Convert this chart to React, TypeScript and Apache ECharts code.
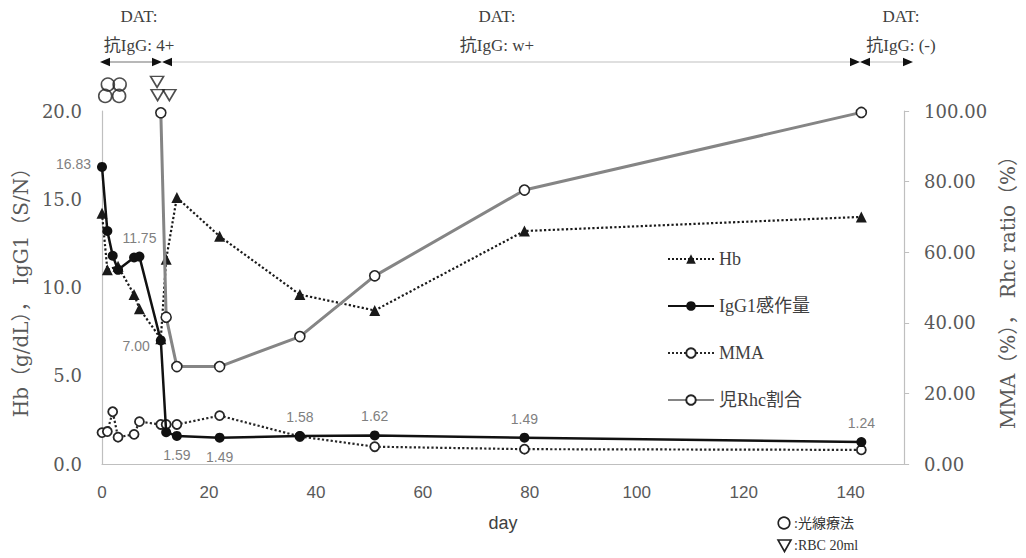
import React, { useEffect, useRef } from "react";
import * as echarts from "echarts";

// ---- data ----
const hbDays = [0, 1, 3, 6, 7, 11, 12, 14, 22, 37, 51, 79, 142];
const hbValues = [14.2, 11.0, 11.2, 9.6, 8.8, 7.1, 11.6, 15.1, 12.9, 9.6, 8.7, 13.2, 14.0];

const igDays = [0, 1, 2, 3, 6, 7, 11, 12, 14, 22, 37, 51, 79, 142];
const igValues = [16.83, 13.2, 11.8, 11.0, 11.7, 11.75, 7.0, 1.8, 1.59, 1.49, 1.58, 1.62, 1.49, 1.24];
const igLabeledDays = [0, 7, 11, 14, 22, 37, 51, 79, 142];

const mmaDays = [0, 1, 2, 3, 6, 7, 11, 12, 14, 22, 37, 51, 79, 142];
const mmaValues = [8.9, 9.2, 14.8, 7.6, 8.4, 12.0, 11.2, 11.2, 11.2, 13.7, 7.8, 4.9, 4.2, 4.0];

const rhcDays = [11, 12, 14, 22, 37, 51, 79, 142];
const rhcValues = [99.5, 41.6, 27.6, 27.6, 36.1, 53.3, 77.6, 99.6];

// treatment marks drawn above the plot (day, stacking level on the left axis scale)
const phototherapyDays = [1.1, 3.3, 0.6, 3.2];
const phototherapyLevels = [21.5, 21.5, 20.85, 20.85];
const transfusionDays = [10.3, 10.4, 12.6];
const transfusionLevels = [21.65, 20.9, 20.9];

const datTitles = ["DAT:", "DAT:", "DAT:"];
const datResults = ["抗IgG: 4+", "抗IgG: w+", "抗IgG: (-)"];

const seriesNames = ["Hb", "IgG1感作量", "MMA", "児Rhc割合"];
const xTicks = { min: 0, max: 150, interval: 20 };
const leftTicks = { min: 0, max: 20, interval: 5 };
const rightTicks = { min: 0, max: 100, interval: 20 };

const SERIF = '"Liberation Serif", "Noto Sans CJK JP", serif';
const SERIF2 = '"DejaVu Serif", "Noto Sans CJK JP", serif';
const SANS = '"Liberation Sans", Arial, sans-serif';

function labelPos(day: number): string {
  if (day === 0 || day === 11) return "left";
  if (day === 14 || day === 22) return "bottom";
  return "top";
}

export default function App() {
  const ref = useRef<HTMLDivElement>(null);
  useEffect(() => {
    document.body.style.margin = "0";
    document.body.style.overflow = "hidden";
    const chart = echarts.init(ref.current!, null, { renderer: "svg" });

    const igData = igDays.map((d, i) => {
      if (igLabeledDays.indexOf(d) >= 0) {
        const pos = labelPos(d);
        return {
          value: [d, igValues[i]],
          label: {
            show: true,
            position: pos,
            distance: pos === "left" ? 6 : 7,
            offset: d === 0 ? [0, -3] : d === 11 ? [0, 6] : [0, 0],
            formatter: igValues[i].toFixed(2),
          },
        };
      }
      return { value: [d, igValues[i]] };
    });

    const graphicEls: any[] = [];
    const txt = (x: number, y: number, text: string, font: string, fill: string, align = "center") => ({
      type: "text",
      x,
      y,
      silent: true,
      style: {
        text,
        font,
        fill,
        align,
        textAlign: align,
        verticalAlign: "middle",
        textVerticalAlign: "middle",
      },
    });
    const centers = [139, 497, 901];
    centers.forEach((cx, i) => {
      graphicEls.push(txt(cx, 16, datTitles[i], `17px ${SERIF}`, "#404040"));
      graphicEls.push(txt(cx, 45, datResults[i], `17px ${SERIF}`, "#404040"));
    });
    const ay = 62;
    const ah = 4.2;
    const arrowL = (tip: number) => ({
      type: "polygon",
      silent: true,
      shape: { points: [[tip, ay], [tip + 10, ay - ah], [tip + 10, ay + ah]] },
      style: { fill: "#111" },
    });
    const arrowR = (tip: number) => ({
      type: "polygon",
      silent: true,
      shape: { points: [[tip, ay], [tip - 10, ay - ah], [tip - 10, ay + ah]] },
      style: { fill: "#111" },
    });
    const seg = (a: number, b: number, color: string) => ({
      type: "line",
      silent: true,
      shape: { x1: a, y1: ay, x2: b, y2: ay },
      style: { stroke: color, lineWidth: 1.5 },
    });
    graphicEls.push(seg(108, 154, "#a0a0a0"), arrowL(100), arrowR(162));
    graphicEls.push(seg(170, 852, "#d4d4d4"), arrowL(162), arrowR(860));
    graphicEls.push(seg(868, 905, "#d4d4d4"), arrowL(860), arrowR(913));

    // key bottom-right
    graphicEls.push({
      type: "circle",
      silent: true,
      shape: { cx: 784, cy: 523, r: 5.8 },
      style: { fill: "#fff", stroke: "#222", lineWidth: 1.6 },
    });
    graphicEls.push(txt(794, 523, ":光線療法", `14px ${SERIF}`, "#333", "left"));
    graphicEls.push({
      type: "polygon",
      silent: true,
      shape: { points: [[778, 540], [791, 540], [784.5, 551.5]] },
      style: { fill: "#fff", stroke: "#222", lineWidth: 1.6 },
    });
    graphicEls.push(txt(794, 545, ":RBC 20ml", `14px ${SERIF}`, "#333", "left"));

    const option: any = {
      animation: false,
      backgroundColor: "#fff",
      grid: { left: 102, right: 117, top: 111, bottom: 94, containLabel: false },
      legend: {
        data: seriesNames,
        orient: "vertical",
        left: 662,
        top: 245,
        itemWidth: 46,
        itemHeight: 12,
        itemGap: 29,
        textStyle: { fontFamily: SERIF, fontSize: 18, color: "#404040" },
      },
      xAxis: {
        type: "value",
        min: xTicks.min,
        max: xTicks.max,
        interval: xTicks.interval,
        name: "day",
        nameLocation: "middle",
        nameGap: 50,
        nameTextStyle: { fontFamily: SANS, fontSize: 18, color: "#404040" },
        axisLine: { show: true, lineStyle: { color: "#bfbfbf", width: 1.2 } },
        axisTick: { show: false },
        splitLine: { show: false },
        axisLabel: { showMaxLabel: false, margin: 20, fontFamily: SANS, fontSize: 17, color: "#595959" },
      },
      yAxis: [
        {
          type: "value",
          min: leftTicks.min,
          max: leftTicks.max,
          interval: leftTicks.interval,
          position: "left",
          name: "Hb（g/dL）， IgG1（S/N）",
          nameLocation: "middle",
          nameRotate: 90,
          nameGap: 67,
          nameTextStyle: { fontFamily: SERIF2, fontSize: 20, color: "#595959" },
          axisLine: { show: true, lineStyle: { color: "#bfbfbf", width: 1.2 } },
          axisTick: { show: false },
          splitLine: { show: false },
          axisLabel: { margin: 20, fontFamily: SERIF2, fontSize: 18, color: "#595959", formatter: (v: number) => v.toFixed(1) },
        },
        {
          type: "value",
          min: rightTicks.min,
          max: rightTicks.max,
          interval: rightTicks.interval,
          position: "right",
          name: "MMA（%）， Rhc ratio（%）",
          nameLocation: "middle",
          nameRotate: 90,
          nameGap: 70,
          nameTextStyle: { fontFamily: SERIF2, fontSize: 20, color: "#595959" },
          axisLine: { show: true, lineStyle: { color: "#bfbfbf", width: 1.2 } },
          axisTick: { show: true, length: 5, lineStyle: { color: "#bfbfbf" } },
          splitLine: { show: false },
          axisLabel: { margin: 20, fontFamily: SERIF2, fontSize: 18, color: "#595959", formatter: (v: number) => v.toFixed(2) },
        },
      ],
      series: [
        {
          name: "Hb",
          type: "line",
          yAxisIndex: 0,
          data: hbDays.map((d, i) => [d, hbValues[i]]),
          symbol: "triangle",
          symbolSize: 11,
          lineStyle: { type: "dotted", width: 2.2, color: "#1a1a1a" },
          itemStyle: { color: "#1a1a1a" },
          z: 3,
        },
        {
          name: "MMA",
          type: "line",
          yAxisIndex: 1,
          data: mmaDays.map((d, i) => [d, mmaValues[i]]),
          symbol: "circle",
          symbolSize: 9,
          lineStyle: { type: "dotted", width: 2.2, color: "#262626" },
          itemStyle: { color: "#fff", borderColor: "#262626", borderWidth: 1.8 },
          z: 3,
        },
        {
          name: "児Rhc割合",
          type: "line",
          yAxisIndex: 1,
          data: rhcDays.map((d, i) => [d, rhcValues[i]]),
          symbol: "circle",
          symbolSize: 10,
          lineStyle: { width: 3, color: "#858585" },
          itemStyle: { color: "#fff", borderColor: "#262626", borderWidth: 1.6 },
          z: 4,
        },
        {
          name: "IgG1感作量",
          type: "line",
          yAxisIndex: 0,
          data: igData,
          symbol: "circle",
          symbolSize: 10,
          lineStyle: { width: 2.5, color: "#111" },
          itemStyle: { color: "#111" },
          label: { fontFamily: SANS, fontSize: 14, color: "#7f7f7f" },
          z: 5,
        },
        {
          name: "光線療法",
          type: "scatter",
          yAxisIndex: 0,
          clip: false,
          silent: true,
          data: phototherapyDays.map((d, i) => [d, phototherapyLevels[i]]),
          symbol: "circle",
          symbolSize: 13,
          itemStyle: { color: "rgba(255,255,255,0)", borderColor: "#222", borderWidth: 1.6 },
        },
        {
          name: "RBC",
          type: "scatter",
          yAxisIndex: 0,
          clip: false,
          silent: true,
          data: transfusionDays.map((d, i) => [d, transfusionLevels[i]]),
          symbol: "triangle",
          symbolRotate: 180,
          symbolSize: [13, 11],
          itemStyle: { color: "rgba(255,255,255,0)", borderColor: "#222", borderWidth: 1.6 },
        },
      ],
      graphic: graphicEls,
    };
    chart.setOption(option);
    return () => chart.dispose();
  }, []);
  return <div ref={ref} style={{ width: 1026, height: 558 }} />;
}
